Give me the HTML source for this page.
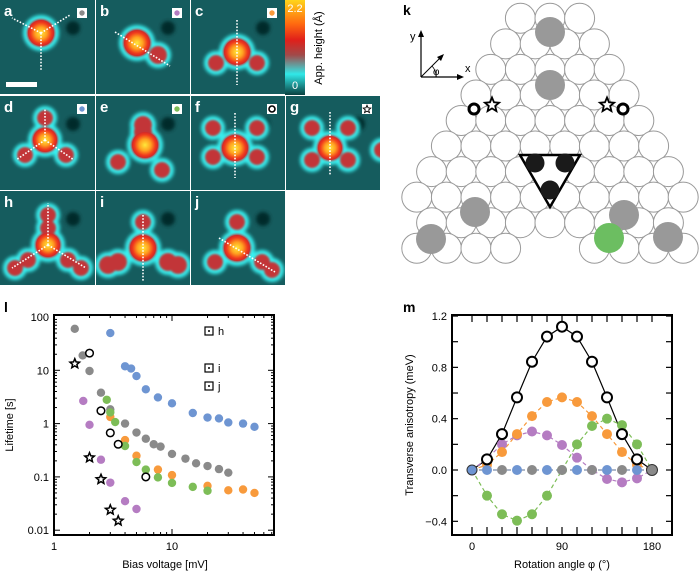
<!DOCTYPE html>
<html><head><meta charset="utf-8"><style>
body{margin:0;background:#fff;width:699px;height:571px;overflow:hidden}
svg{display:block;font-family:"Liberation Sans",sans-serif}
</style></head><body>
<svg id="s" width="699" height="571" viewBox="0 0 699 571">
<defs>
<filter id="bl" x="-50%" y="-50%" width="200%" height="200%"><feGaussianBlur stdDeviation="1.8"/></filter>
<filter id="bl2" x="-50%" y="-50%" width="200%" height="200%"><feGaussianBlur stdDeviation="1"/></filter>
<radialGradient id="core"><stop offset="0" stop-color="#ffe83a"/><stop offset="0.45" stop-color="#ffa020"/><stop offset="0.8" stop-color="#f03a1c"/><stop offset="1" stop-color="#d02828"/></radialGradient>
<linearGradient id="cbar" x1="0" y1="0" x2="0" y2="1"><stop offset="0" stop-color="#ffd51a"/><stop offset="0.25" stop-color="#ff6a10"/><stop offset="0.42" stop-color="#e0201a"/><stop offset="0.58" stop-color="#a04a4a"/><stop offset="0.78" stop-color="#30e8e8"/><stop offset="1" stop-color="#0a4040"/></linearGradient>
</defs>
<g id="stm"></g>
<rect x="285" y="0" width="20" height="95" fill="url(#cbar)"/>
<text x="295" y="12" font-size="11" fill="#fff" text-anchor="middle">2.2</text>
<text x="295" y="89" font-size="11" fill="#fff" text-anchor="middle">0</text>
<text transform="translate(322,48) rotate(-90)" font-size="11" text-anchor="middle">App. height (Å)</text>
<g id="kp"></g>
<g id="lp"></g>
<g id="mp"></g>
</svg>
<script>
// ---- Panel l data ----
const grayV=[1.5,1.75,2,2.5,3,4,5,6,7,8,10,13,16,20,25,30];
const grayL=[60,19,9.7,3.8,1.85,1.0,0.68,0.52,0.41,0.37,0.27,0.22,0.18,0.16,0.14,0.12];
const blueV=[3,4,4.5,5,6,7.6,10,15,20,25,30,40,50];
const blueL=[50,11.9,10.8,7.8,4.4,3.1,2.4,1.58,1.3,1.25,1.05,1.0,0.87];
const orangeV=[3,4,5,7.6,10,20,30,40,50];
const orangeL=[1.33,0.49,0.25,0.137,0.108,0.068,0.056,0.058,0.05];
const greenV=[2.8,3,3.3,4,5,6,7.6,10,15,20];
const greenL=[2.8,1.62,1.07,0.38,0.19,0.137,0.098,0.077,0.065,0.055];
const purpleV=[1.77,2,2.5,3,4,5];
const purpleL=[2.66,0.95,0.21,0.078,0.035,0.025];
const openV=[2,2.5,3,3.5,6];
const openL=[21,1.74,0.67,0.41,0.1];
const starV=[1.5,2,2.5,3,3.5];
const starL=[13.3,0.23,0.09,0.024,0.015];
const lYTicks=[100,10,1,0.1,0.01];
const lYLabels=["100","10","1","0.1","0.01"];
const lXTicks=[1,10];
const lXLabels=["1","10"];
// ---- Panel m data ----
const angles=[0,15,30,45,60,75,90,105,120,135,150,165,180];
const mBlack=[0,0.083,0.28,0.566,0.844,1.04,1.117,1.04,0.844,0.566,0.28,0.083,0];
const mOrange=[0,0.04,0.14,0.28,0.42,0.53,0.566,0.53,0.42,0.28,0.14,0.04,0];
const mPurple=[0,0.09,0.2,0.27,0.3,0.27,0.195,0.096,0,-0.07,-0.096,-0.065,0];
const mGreen=[0,-0.2,-0.345,-0.395,-0.345,-0.2,0,0.2,0.343,0.4,0.35,0.2,0];
const mBlueAngles=[0,15,45,75,105,135,165];
const mBlueVals=[0,0,0,0,0,0,0];
const mGrayAngles=[30,60,90,120,150,180];
const mGrayVals=[0,0,0,0,0,0];
const mYTicks=[1.2,0.8,0.4,0.0,-0.4];
const mYLabels=["1.2","0.8","0.4","0.0","\u22120.4"];
const mXTicks=[0,90,180];
const mXLabels=["0","90","180"];

const NS="http://www.w3.org/2000/svg";
function mk(p,t,a){const e=document.createElementNS(NS,t);for(const k in a)e.setAttribute(k,a[k]);p.appendChild(e);return e;}
function starPts(cx,cy,R){const r=R*0.45;let s=[];for(let i=0;i<10;i++){const a=-Math.PI/2+i*Math.PI/5,q=i%2?r:R;s.push((cx+q*Math.cos(a)).toFixed(1)+','+(cy+q*Math.sin(a)).toFixed(1));}return s.join(' ');}
const C={gray:"#8a8a8a",blue:"#6e95d2",orange:"#f89a3c",green:"#7dbd57",purple:"#b57cc2"};

// ---- STM images ----
const stm=document.getElementById('stm');
const panels=[
 {n:'a',x:0,y:0,w:95,main:[41,33,13],b:[],lines:[[41,33,12,18],[41,33,70,15],[41,33,41,70]],dot:C.gray},
 {n:'b',x:96,y:0,w:94,main:[137,43,13],b:[[158,55,8]],lines:[[115,32,170,66]],dot:C.purple},
 {n:'c',x:191,y:0,w:94,main:[237,52,13],b:[[216,63,7],[257,63,7]],lines:[[237,20,237,85]],dot:C.orange},
 {n:'d',x:0,y:96,w:95,main:[45,140,12],b:[[45,118,7],[25,155,7],[66,155,7]],lines:[[45,140,45,108],[45,140,16,160],[45,140,74,160]],dot:C.blue},
 {n:'e',x:96,y:96,w:94,main:[145,145,13],b:[[143,125,8],[143,132,8],[118,162,7],[162,170,7]],lines:[],dot:C.green},
 {n:'f',x:191,y:96,w:94,main:[235,148,13],b:[[213,128,7],[257,128,7],[213,157,7],[257,157,7]],lines:[[235,113,235,178]],dot:'open'},
 {n:'g',x:286,y:96,w:94,main:[330,148,12],b:[[312,128,7],[348,128,7],[312,160,7],[348,160,7],[382,150,7]],lines:[[330,112,330,176]],dot:'star'},
 {n:'h',x:0,y:191,w:95,main:[48,245,12],b:[[48,215,7],[48,228,7],[28,260,7],[15,268,7],[68,260,7],[81,268,7]],lines:[[48,245,48,203],[48,245,12,268],[48,245,86,268]],dot:null},
 {n:'i',x:96,y:191,w:94,main:[143,248,13],b:[[143,222,7],[118,262,8],[108,265,8],[168,262,8],[178,265,8]],lines:[[143,215,143,282]],dot:null},
 {n:'j',x:191,y:191,w:94,main:[237,248,13],b:[[237,222,7],[215,262,7],[262,262,7],[272,270,7]],lines:[[219,238,275,272]],dot:null}
];
panels.forEach(p=>{
 const g=mk(stm,'g',{});
 
 
 const cid='cp'+p.n;
 mk(mk(g,'clipPath',{id:cid}),'rect',{x:p.x,y:p.y,width:p.w,height:94});
 const inner=mk(g,'g',{'clip-path':'url(#'+cid+')'});
 mk(inner,'rect',{x:p.x,y:p.y,width:p.w,height:94,fill:'#155c5e'});
 mk(inner,'circle',{cx:p.x+p.w-22,cy:p.y+28,r:7,fill:'#062a2a',filter:'url(#bl)'});
 const all=[p.main].concat(p.b);
 const gl=mk(inner,'g',{filter:'url(#bl)'});
 all.forEach(c=>mk(gl,'circle',{cx:c[0],cy:c[1],r:c[2]+5,fill:'#38f0f0'}));
 const gr=mk(inner,'g',{filter:'url(#bl2)'});
 all.forEach(c=>mk(gr,'circle',{cx:c[0],cy:c[1],r:c[2]+1,fill:'#c23438'}));
 mk(inner,'circle',{cx:p.main[0],cy:p.main[1],r:p.main[2],fill:'url(#core)'});
 p.lines.forEach(l=>mk(inner,'line',{x1:l[0],y1:l[1],x2:l[2],y2:l[3],stroke:'#fff','stroke-width':1.6,'stroke-dasharray':'1.6 1.6'}));
 const t=mk(g,'text',{x:p.x+4,y:p.y+16,'font-size':15,'font-weight':'bold',fill:'#fff'});t.textContent=p.n;
 
 
 if(p.dot){
  const bx=p.x+p.w-18,by=p.y+8;
  mk(g,'rect',{x:bx,y:by,width:10,height:10,fill:'#fff'});
  if(p.dot==='open')mk(g,'circle',{cx:bx+5,cy:by+5,r:3,fill:'none',stroke:'#000','stroke-width':1.6});
  else if(p.dot==='star')mk(g,'polygon',{points:starPts(bx+5,by+5.3,4),fill:'#fff',stroke:'#000','stroke-width':0.9});
  else mk(g,'circle',{cx:bx+5,cy:by+5,r:2.7,fill:p.dot});
 }
 if(p.n==='a')mk(g,'rect',{x:6,y:82,width:31,height:5,fill:'#fff'});
});

// ---- Panel k ----
const kp=document.getElementById('kp');
const kx0=550,ky0=18.3,kdx=29.6,kdy=25.55,kr=15;
for(let r=0;r<10;r++){
 let n=r+3,skip=[];
 if(r===8)n=9;
 if(r===9){n=10;skip=[4,5];}
 for(let i=0;i<n;i++){ if(skip.includes(i))continue;
  const c=mk(kp,'circle',{cx:kx0+(i-(n-1)/2)*kdx,cy:ky0+r*kdy,r:kr,fill:'#fff',stroke:'#999','stroke-width':1});
  
  
 }
}
[[550,32],[550,85],[475,212],[431,239],[624,215],[668,237]].forEach(q=>mk(kp,'circle',{cx:q[0],cy:q[1],r:15,fill:'#999'}));
mk(kp,'circle',{cx:609,cy:238,r:15,fill:'#6cbe61'});
mk(kp,'polygon',{points:'520,155 580,155 550,207',fill:'#fff',stroke:'#000','stroke-width':2.5});
[[535,163],[565,163],[550,190]].forEach(q=>mk(kp,'circle',{cx:q[0],cy:q[1],r:9.5,fill:'#1a1a1a'}));
mk(kp,'circle',{cx:474,cy:109,r:5,fill:'#fff',stroke:'#000','stroke-width':3});
mk(kp,'circle',{cx:623,cy:109,r:5,fill:'#fff',stroke:'#000','stroke-width':3});
[[492,105],[607,105]].forEach(q=>mk(kp,'polygon',{points:starPts(q[0],q[1],7.5),fill:'#fff',stroke:'#000','stroke-width':1.8}));
mk(kp,'line',{x1:421,y1:77,x2:421,y2:34,stroke:'#000','stroke-width':1.2});
mk(kp,'polygon',{points:'421,30 418,37 424,37'});
mk(kp,'line',{x1:421,y1:77,x2:460,y2:77,stroke:'#000','stroke-width':1.2});
mk(kp,'polygon',{points:'464,77 457,74 457,80'});
mk(kp,'line',{x1:421,y1:77,x2:441,y2:57,stroke:'#000','stroke-width':1});
mk(kp,'polygon',{points:'444,54 437,57 441,61'});
mk(kp,'path',{d:'M436,77 A15,15 0 0 0 432,66',fill:'none',stroke:'#000','stroke-width':0.8});
let t=mk(kp,'text',{x:410,y:40,'font-size':11});t.textContent='y';
t=mk(kp,'text',{x:465,y:72,'font-size':11});t.textContent='x';
t=mk(kp,'text',{x:433,y:75,'font-size':10});t.textContent='φ';
t=mk(kp,'text',{x:403,y:15,'font-size':14,'font-weight':'bold'});t.textContent='k';



// ---- Panel l ----
const lp=document.getElementById('lp');
const lx=v=>54+118*Math.log10(v), ly=v=>317+53.3*(2-Math.log10(v));
mk(lp,'rect',{x:54,y:315,width:220,height:220,fill:'none',stroke:'#000','stroke-width':2});
for(let d=-2;d<2;d++)for(let m=1;m<10;m++){const v=m*Math.pow(10,d),y=ly(v),L=m===1?6:3;
 mk(lp,'line',{x1:54,y1:y,x2:54+L,y2:y,stroke:'#000'});mk(lp,'line',{x1:274,y1:y,x2:274-L,y2:y,stroke:'#000'});}
for(let d=0;d<2;d++)for(let m=1;m<10;m++){const v=m*Math.pow(10,d),x=lx(v);if(x>274)continue;const L=m===1?6:3;
 mk(lp,'line',{x1:x,y1:535,x2:x,y2:535-L,stroke:'#000'});mk(lp,'line',{x1:x,y1:315,x2:x,y2:315+L,stroke:'#000'});}
lYTicks.forEach((v,i)=>{const e=mk(lp,'text',{x:49,y:ly(v)+4,'font-size':11,'text-anchor':'end'});e.textContent=lYLabels[i];});
lXTicks.forEach((v,i)=>{const e=mk(lp,'text',{x:lx(v),y:550,'font-size':11,'text-anchor':'middle'});e.textContent=lXLabels[i];});
t=mk(lp,'text',{x:165,y:568,'font-size':11,'text-anchor':'middle'});t.textContent='Bias voltage [mV]';


t=mk(lp,'text',{transform:'translate(13,425) rotate(-90)','font-size':11,'text-anchor':'middle'});t.textContent='Lifetime [s]';


t=mk(lp,'text',{x:4,y:312,'font-size':14,'font-weight':'bold'});t.textContent='l';
function ldots(V,L,col,name){V.forEach((v,i)=>{const c=mk(lp,'circle',{cx:lx(v),cy:ly(L[i]),r:4.2,fill:col});
 
 });}
ldots(grayV,grayL,C.gray,'l-gray-point');
ldots(blueV,blueL,C.blue,'l-blue-point');
ldots(orangeV,orangeL,C.orange,'l-orange-point');
ldots(greenV,greenL,C.green,'l-green-point');
ldots(purpleV,purpleL,C.purple,'l-purple-point');
openV.forEach((v,i)=>{const c=mk(lp,'circle',{cx:lx(v),cy:ly(openL[i]),r:3.8,fill:'#fff',stroke:'#000','stroke-width':1.5});
 
 });
starV.forEach((v,i)=>{const s=mk(lp,'polygon',{points:starPts(lx(v),ly(starL[i]),5),fill:'#fff',stroke:'#000','stroke-width':1.5});
 
 });
[['h',331],['i',368],['j',386]].forEach(q=>{mk(lp,'rect',{x:205,y:q[1]-4,width:8,height:8,fill:'#fff',stroke:'#000','stroke-width':1.2});
 mk(lp,'circle',{cx:209,cy:q[1],r:1,fill:'#000'});
 const e=mk(lp,'text',{x:218,y:q[1]+4,'font-size':11});e.textContent=q[0];
 
 });

// ---- Panel m ----
const mp=document.getElementById('mp');
const mx=a=>472+a, my=v=>470-v*128.3;
mk(mp,'rect',{x:452,y:315,width:220,height:220,fill:'none',stroke:'#000','stroke-width':2});
for(let v=-0.6;v<=1.25;v+=0.2){const y=my(v);if(y<316||y>534)continue;
 mk(mp,'line',{x1:452,y1:y,x2:458,y2:y,stroke:'#000','stroke-width':1.2});mk(mp,'line',{x1:672,y1:y,x2:666,y2:y,stroke:'#000','stroke-width':1.2});}
angles.forEach(a=>{const x=mx(a);mk(mp,'line',{x1:x,y1:535,x2:x,y2:527,stroke:'#000','stroke-width':1.2});mk(mp,'line',{x1:x,y1:315,x2:x,y2:322,stroke:'#000','stroke-width':1.2});});
mYTicks.forEach((v,i)=>{const e=mk(mp,'text',{x:447,y:my(v)+4,'font-size':11,'text-anchor':'end'});e.textContent=mYLabels[i];});
mXTicks.forEach((v,i)=>{const e=mk(mp,'text',{x:mx(v),y:550,'font-size':11,'text-anchor':'middle'});e.textContent=mXLabels[i];});
t=mk(mp,'text',{x:562,y:568,'font-size':11,'text-anchor':'middle'});t.textContent='Rotation angle φ (°)';


t=mk(mp,'text',{transform:'translate(413,425) rotate(-90)','font-size':11,'text-anchor':'middle'});t.textContent='Transverse anisotropy (meV)';


t=mk(mp,'text',{x:403,y:312,'font-size':14,'font-weight':'bold'});t.textContent='m';
function mline(A,V,col,dash){mk(mp,'polyline',{points:A.map((a,i)=>mx(a)+','+my(V[i])).join(' '),fill:'none',stroke:col,'stroke-width':1.2,'stroke-dasharray':dash||''});}
mline(angles,mBlack,'#000');
mline(angles,mOrange,C.orange,'4 3');
mline(angles,mPurple,C.purple,'4 3');
mline(angles,mGreen,C.green,'4 3');
mline([0,180],[0,0],'#7a8aa8','4 3');
function mdots(A,V,col,name){A.forEach((a,i)=>{const c=mk(mp,'circle',{cx:mx(a),cy:my(V[i]),r:5,fill:col});
 
 });}
mdots(angles,mGreen,C.green,'m-green-point');
mdots(angles.slice(1,12),mPurple.slice(1,12),C.purple,'m-purple-point');
mdots(angles.slice(1,12),mOrange.slice(1,12),C.orange,'m-orange-point');
mdots(mBlueAngles,mBlueVals,C.blue,'m-blue-point');
mdots(mGrayAngles,mGrayVals,C.gray,'m-gray-point');
angles.slice(1,12).forEach((a,i)=>{const c=mk(mp,'circle',{cx:mx(a),cy:my(mBlack[i+1]),r:5,fill:'#fff',stroke:'#000','stroke-width':2});
 
 });
mk(mp,'circle',{cx:mx(0),cy:my(0),r:5,fill:C.blue,stroke:'#333'});
mk(mp,'circle',{cx:mx(180),cy:my(0),r:5.5,fill:C.gray,stroke:'#333'});
</script>
</body></html>
